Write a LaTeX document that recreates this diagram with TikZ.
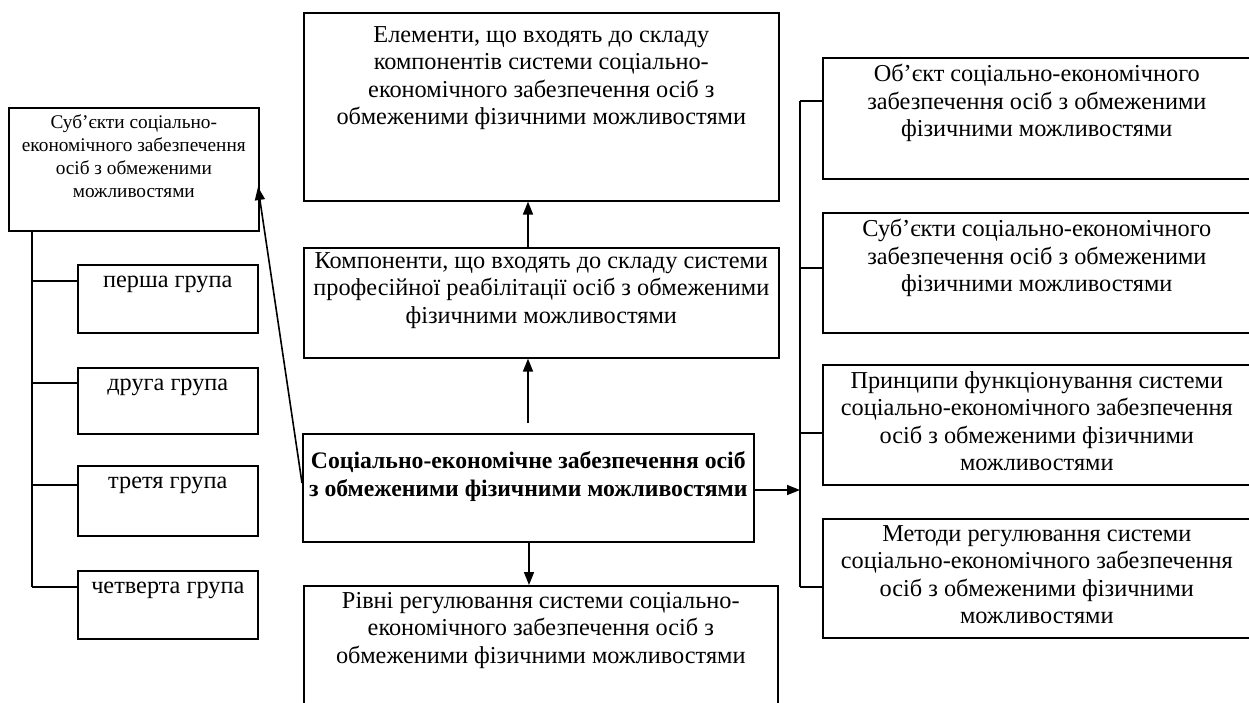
\documentclass[tikz,border=0pt]{standalone}
\usepackage{fontspec}
\setmainfont{Liberation Serif}
\usetikzlibrary{arrows.meta,calc}
\begin{document}
\begin{tikzpicture}[x=1pt,y=-1pt,
  box/.style={draw, line width=1.6pt, inner sep=0pt, anchor=north west},
  txt/.style={align=center, inner sep=0pt, anchor=north, font=\fontsize{24.3}{27.5}\selectfont},
  stxt/.style={txt, font=\fontsize{19.3}{23}\selectfont},
  btxt/.style={txt, font=\bfseries\fontsize{23.7}{28}\selectfont},
  conn/.style={line width=1.6pt},
  arr/.style={line width=1.6pt, -{Triangle[length=13pt,width=10pt]}}]
\useasboundingbox (0,0) rectangle (1249,702);

% central column boxes
\node[box, minimum width=475pt, minimum height=188pt] (top) at (303,12) {};
\node[box, minimum width=475pt, minimum height=110pt] (comp) at (303,247) {};
\node[box, minimum width=451pt, minimum height=108pt] (cen) at (302,433) {};
\node[box, minimum width=474pt, minimum height=160pt] (bot) at (303,585) {};

\node[txt] (toptxt) at ([yshift=-14pt]top.north) {Елементи, що входять до складу\\компонентів системи соціально-\\економічного забезпечення осіб з\\обмеженими фізичними можливостями};
\node[txt] (comptxt) at ([yshift=-5pt]comp.north) {Компоненти, що входять до складу системи\\професійної реабілітації осіб з обмеженими\\фізичними можливостями};
\node[btxt] (centxt) at ([yshift=-18pt]cen.north) {Соціально-економічне забезпечення осіб\\з обмеженими фізичними можливостями};
\node[txt] (bottxt) at ([yshift=-7pt]bot.north) {Рівні регулювання системи соціально-\\економічного забезпечення осіб з\\обмеженими фізичними можливостями};

% left column
\node[box, minimum width=250pt, minimum height=123pt] (lb) at (8,107) {};
\node[stxt] (lbtxt) at ([yshift=-7pt]lb.north) {Суб’єкти соціально-\\економічного забезпечення\\осіб з обмеженими\\можливостями};

\node[box, minimum width=180pt, minimum height=68pt] (g1) at (77,264) {};
\node[box, minimum width=180pt, minimum height=66pt] (g2) at (77,367) {};
\node[box, minimum width=180pt, minimum height=70pt] (g3) at (77,465) {};
\node[box, minimum width=180pt, minimum height=68pt] (g4) at (77,570) {};
\node[txt] (g1t) at ([yshift=-12pt]g1.north) {перша група};
\node[txt] (g2t) at ([yshift=-12pt]g2.north) {друга група};
\node[txt] (g3t) at ([yshift=-12pt]g3.north) {третя група};
\node[txt] (g4t) at ([yshift=-12pt]g4.north) {четверта група};

% right column
\node[box, minimum width=430pt, minimum height=121pt] (r1) at (822,57) {};
\node[box, minimum width=430pt, minimum height=120pt] (r2) at (822,212) {};
\node[box, minimum width=430pt, minimum height=120pt] (r3) at (822,364) {};
\node[box, minimum width=430pt, minimum height=119pt] (r4) at (822,518) {};
\node[txt] (r1t) at ([xshift=-1pt,yshift=-7pt]r1.north) {Об’єкт соціально-економічного\\забезпечення осіб з обмеженими\\фізичними можливостями};
\node[txt] (r2t) at ([xshift=-1pt,yshift=-7pt]r2.north) {Суб’єкти соціально-економічного\\забезпечення осіб з обмеженими\\фізичними можливостями};
\node[txt] (r3t) at ([xshift=-1pt,yshift=-7pt]r3.north) {Принципи функціонування системи\\соціально-економічного забезпечення\\осіб з обмеженими фізичними\\можливостями};
\node[txt] (r4t) at ([xshift=-1pt,yshift=-7pt]r4.north) {Методи регулювання системи\\соціально-економічного забезпечення\\осіб з обмеженими фізичними\\можливостями};

% vertical arrows in centre
\coordinate (a1) at (528,247);
\draw[arr] (a1) -- (a1 |- top.south);
\coordinate (a2) at (528,423);
\draw[arr] (a2) -- (a2 |- comp.south);
\coordinate (a4) at (529,541);
\draw[arr] (a4) -- (a4 |- bot.north);

% right trunk
\coordinate (rb1) at (800,101);
\coordinate (rb2) at (800,268);
\coordinate (rb3) at (800,433);
\coordinate (rb4) at (800,587);
\draw[conn] (rb1) -- (rb4);
\draw[conn] (rb1) -- (rb1 -| r1.west);
\draw[conn] (rb2) -- (rb2 -| r2.west);
\draw[conn] (rb3) -- (rb3 -| r3.west);
\draw[conn] (rb4) -- (rb4 -| r4.west);
\coordinate (a3) at (753,490);
\draw[arr] (a3) -- (a3 -| rb1);

% left trunk
\coordinate (lt0) at (32,230);
\coordinate (lt1) at (32,281);
\coordinate (lt2) at (32,383);
\coordinate (lt3) at (32,485);
\coordinate (lt4) at (32,587);
\draw[conn] (lt0) -- (lt4);
\draw[conn] (lt1) -- (lt1 -| g1.west);
\draw[conn] (lt2) -- (lt2 -| g2.west);
\draw[conn] (lt3) -- (lt3 -| g3.west);
\draw[conn] (lt4) -- (lt4 -| g4.west);

% diagonal arrow to left box
\coordinate (a5s) at (302,483);
\coordinate (a5e) at (258,187);
\draw[arr] (a5s) -- (a5e);
\end{tikzpicture}
\end{document}
